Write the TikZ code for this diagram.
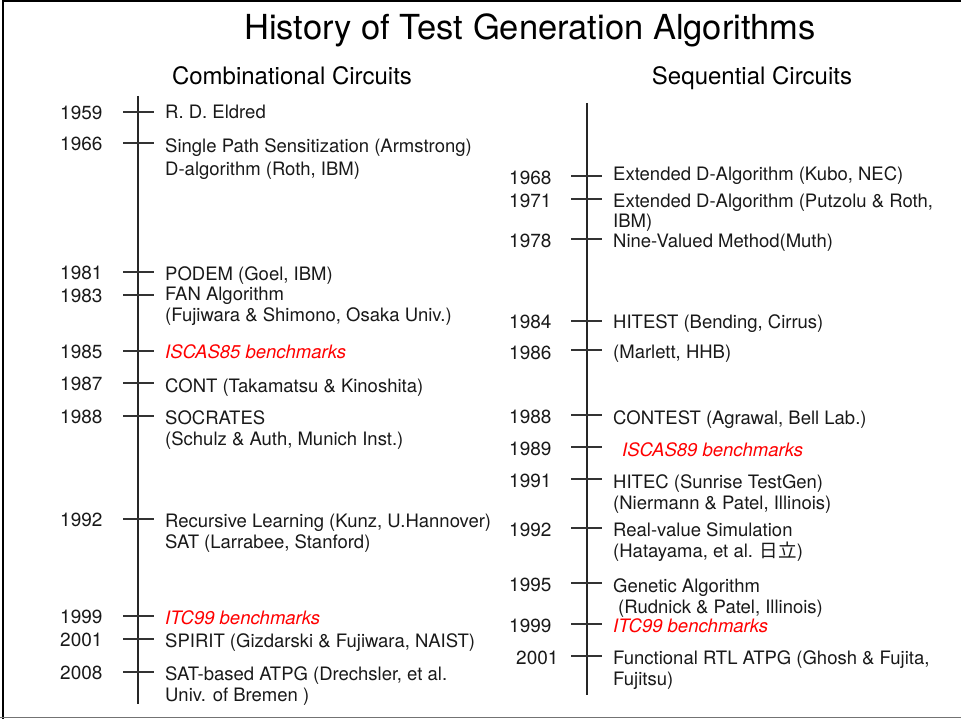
\documentclass[tikz,border=0pt]{standalone}
\usepackage{fontspec}
\setmainfont{TeX Gyre Heros}
\newfontfamily\cjk{Noto Sans CJK JP}
\begin{document}
\begin{tikzpicture}[
	x=1pt, y=-1pt,
	font=\fontsize{18.5}{21}\selectfont
]
\tikzset{
    titlenode/.style = {anchor=base, inner sep=0, font=\fontsize{34.5}{40}\selectfont},
    headnode/.style = {anchor=base, inner sep=0, font=\fontsize{24}{28}\selectfont},
    yearnode/.style = {anchor=west, inner sep=0, text=black!90, font=\fontsize{19}{21}\selectfont},
    itemnode/.style = {anchor=north west, inner sep=0, align=left, text=black!90},
    rednode/.style = {anchor=north west, inner sep=0, text=red, font=\fontsize{18.5}{21}\selectfont\itshape},
    axisline/.style = {-, line width=1.3pt, black!85},
    tickline/.style = {-, line width=1.1pt, black!80},
}
\useasboundingbox (0,0) rectangle (961,719);
% frame
\draw[line width=2pt] (2.5,719) -- (2.5,0.8) -- (961,0.8);
\draw[line width=1pt, black!55] (0,717.5) -- (961,717.5);
%
\node[titlenode] at (530,39.5) (title) {History of Test Generation Algorithms};
\node[headnode] at (292,84.5) (comb) {Combinational Circuits};
\node[headnode] at (752,84.5) (seq) {Sequential Circuits};
%
% combinational circuits
\coordinate (ctop) at (138,96);
\coordinate (cbot) at (138,704);
\draw[axisline] (ctop) -- (cbot);
\foreach \y in {112,143,272,295,351,383,416,519,616,639,672}
    \draw[tickline] (123,\y) -- (154,\y);
%
\node[yearnode] at (60,112.5) (c1959) {1959};
\node[yearnode] at (60,143.5) (c1966) {1966};
\node[yearnode] at (60,272.5) (c1981) {1981};
\node[yearnode] at (60,295.5) (c1983) {1983};
\node[yearnode] at (60,351.5) (c1985) {1985};
\node[yearnode] at (60,383.5) (c1987) {1987};
\node[yearnode] at (60,416.5) (c1988) {1988};
\node[yearnode] at (60,519.5) (c1992) {1992};
\node[yearnode] at (60,616.5) (c1999) {1999};
\node[yearnode] at (60,639.5) (c2001) {2001};
\node[yearnode] at (60,672.5) (c2008) {2008};
%
\node[itemnode] at (165,105) (eldred) {R. D. Eldred};
\node[itemnode] at (165,138) (armstrong) {Single Path Sensitization (Armstrong)};
\node[itemnode] at (165,162) (dalg) {D-algorithm (Roth, IBM)};
\node[itemnode] at (165,266) (podem) {PODEM (Goel, IBM)};
\node[itemnode] at (165,287) (fan) {FAN Algorithm\\(Fujiwara \& Shimono, Osaka Univ.)};
\node[rednode] at (165,344) (iscas85) {ISCAS85 benchmarks};
\node[itemnode] at (165,378) (cont) {CONT (Takamatsu \& Kinoshita)};
\node[itemnode] at (165,410) (socrates) {SOCRATES\\(Schulz \& Auth, Munich Inst.)};
\node[itemnode] at (165,514) (recursive) {Recursive Learning (Kunz, U.Hannover)\\SAT (Larrabee, Stanford)};
\node[rednode] at (165,610) (itc99c) {ITC99 benchmarks};
\node[itemnode] at (165,633) (spirit) {SPIRIT (Gizdarski \& Fujiwara, NAIST)};
\node[itemnode] at (165,666) (satatpg) {SAT-based ATPG (Drechsler, et al.\\Univ. of Bremen )};
%
% sequential circuits
\coordinate (stop) at (587,103);
\coordinate (sbot) at (587,695);
\draw[axisline] (stop) -- (sbot);
\foreach \y in {176,199,239,321,350,415,447,479,528,583,624,656}
    \draw[tickline] (571,\y) -- (602,\y);
%
\node[yearnode] at (509,177.5) (s1968) {1968};
\node[yearnode] at (509,200.5) (s1971) {1971};
\node[yearnode] at (509,240.5) (s1978) {1978};
\node[yearnode] at (509,321.5) (s1984) {1984};
\node[yearnode] at (509,352.5) (s1986) {1986};
\node[yearnode] at (509,416.5) (s1988) {1988};
\node[yearnode] at (509,448.5) (s1989) {1989};
\node[yearnode] at (509,480.5) (s1991) {1991};
\node[yearnode] at (509,529.5) (s1992) {1992};
\node[yearnode] at (509,584.5) (s1995) {1995};
\node[yearnode] at (509,625.5) (s1999) {1999};
\node[yearnode] at (516,657.5) (s2001) {2001};
%
\node[itemnode] at (613,166) (kubo) {Extended D-Algorithm (Kubo, NEC)};
\node[itemnode] at (613,194) (putzolu) {Extended D-Algorithm (Putzolu \& Roth,\\[-1pt]IBM)};
\node[itemnode] at (613,234) (muth) {Nine-Valued Method(Muth)};
\node[itemnode] at (613,314) (hitest) {HITEST (Bending, Cirrus)};
\node[itemnode] at (613,345) (marlett) {(Marlett, HHB)};
\node[itemnode] at (613,410) (contest) {CONTEST (Agrawal, Bell Lab.)};
\node[rednode] at (622,442) (iscas89) {ISCAS89 benchmarks};
\node[itemnode] at (613,474) (hitec) {HITEC (Sunrise TestGen)\\(Niermann \& Patel, Illinois)};
\node[itemnode] at (613,522) (realvalue) {Real-value Simulation\\(Hatayama, et al. {\cjk 日立})};
\node[itemnode] at (613,578) (genetic) {Genetic Algorithm\\\hspace*{5pt}(Rudnick \& Patel, Illinois)};
\node[rednode] at (613,618) (itc99s) {ITC99 benchmarks};
\node[itemnode] at (613,650) (rtlatpg) {Functional RTL ATPG (Ghosh \& Fujita,\\Fujitsu)};
\end{tikzpicture}
\end{document}
